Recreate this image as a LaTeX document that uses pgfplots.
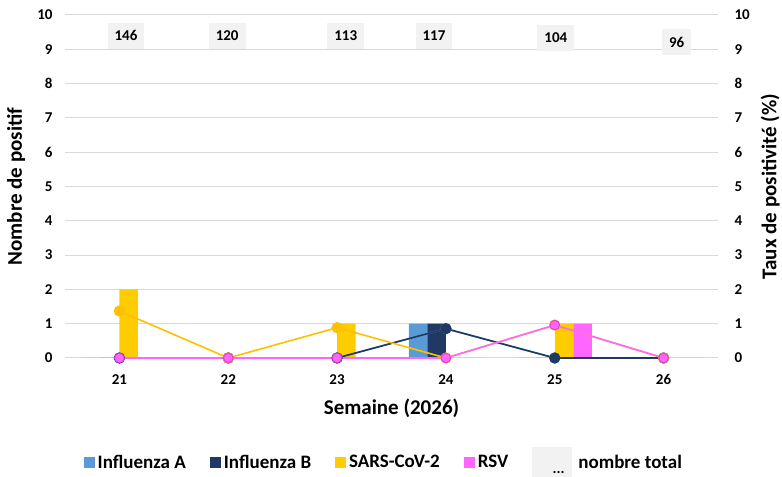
\documentclass[border=0pt]{standalone}
\usepackage{fontspec}
\setmainfont{Carlito}
\usepackage{pgfplots}
\pgfplotsset{compat=1.18}
\definecolor{fluA}{HTML}{5B9BD5}
\definecolor{fluB}{HTML}{1F3864}
\definecolor{sars}{HTML}{FFCC00}
\definecolor{sarsl}{HTML}{FFC000}
\definecolor{rsv}{HTML}{FF66FF}
\definecolor{rsvb}{HTML}{E63CCF}
\definecolor{gridc}{HTML}{D9D9D9}
\definecolor{boxc}{HTML}{F2F2F2}
\newcommand{\tickfont}{\fontsize{15bp}{18bp}\selectfont\bfseries}
\newcommand{\labfont}{\fontsize{21bp}{25bp}\selectfont\bfseries}
\newcommand{\legfont}{\fontsize{19bp}{22bp}\selectfont\bfseries}
\begin{document}
\begin{tikzpicture}[x=1bp,y=1bp]
\path[use as bounding box] (0,0) rectangle (782,477);
\begin{axis}[
  at={(65bp,119bp)}, anchor=south west,
  scale only axis, width=653bp, height=343bp,
  xmin=20.5, xmax=26.5, ymin=0, ymax=10,
  xtick={21,22,23,24,25,26}, ytick={0,1,...,10},
  ybar=0pt, bar width=18.5bp,
  axis line style={draw=none}, major tick length=0,
  ymajorgrids, grid style={gridc, line width=1bp},
  /pgf/number format/assume math mode=true,
  ticklabel style={font=\tickfont},
  xticklabel style={yshift=-13bp},
  yticklabel style={xshift=-9bp},
  xlabel={Semaine (2026)}, ylabel={Nombre de positif},
  label style={font=\labfont},
  xlabel style={at={(axis description cs:0.5,-0.146)}, anchor=center},
  ylabel style={at={(axis description cs:-0.075,0.5)}, anchor=center},
  legend columns=5,
  legend style={at={(axis description cs:0.489,-0.306)}, anchor=center, draw=none, fill=none,
    font=\legfont, nodes={inner xsep=3bp},
    /tikz/every even column/.append style={column sep=21bp}},
  legend cell align=left,
  legend image code/.code={\fill[#1] (0bp,-5.5bp) rectangle (11bp,5.5bp);},
]
\addplot[fill=fluA, draw=none] coordinates {(21,0)(22,0)(23,0)(24,1)(25,0)(26,0)};
\addlegendentry{Influenza A}
\addplot[fill=fluB, draw=none] coordinates {(21,0)(22,0)(23,0)(24,1)(25,0)(26,0)};
\addlegendentry{Influenza B}
\addplot[fill=sars, draw=none] coordinates {(21,2)(22,0)(23,1)(24,0)(25,1)(26,0)};
\addlegendentry{SARS-CoV-2}
\addplot[fill=rsv, draw=none] coordinates {(21,0)(22,0)(23,0)(24,0)(25,1)(26,0)};
\addlegendentry{RSV}
\addlegendimage{legend image code/.code={
  \fill[boxc, draw=none] (0bp,-16bp) rectangle (40bp,15bp);
  \node[font=\tickfont, inner sep=0pt, text=black] at (20bp,-11bp) {...};
  \path[draw=none] (0bp,0bp) -- (43bp,0bp);}}
\addlegendentry{nombre total}
\end{axis}
\begin{axis}[
  at={(65bp,119bp)}, anchor=south west,
  scale only axis, width=653bp, height=343bp,
  xmin=20.5, xmax=26.5, ymin=0, ymax=10,
  axis x line=none, axis y line*=right,
  axis line style={draw=none}, major tick length=0,
  ytick={0,1,...,10},
  /pgf/number format/assume math mode=true,
  ticklabel style={font=\tickfont},
  yticklabel style={xshift=13bp},
  ylabel={Taux de positivité (\%)},
  label style={font=\labfont},
  ylabel style={at={(axis description cs:1.080,0.5)}, anchor=center},
  clip=false,
  every axis plot/.append style={line width=1.6bp, mark=*, mark size=4.8bp},
]
\addplot[color=fluA, mark options={fill=fluA, draw=fluA}] coordinates {(21,0)(22,0)(23,0)(24,0.855)(25,0)(26,0)};
\addplot[color=fluB, mark options={fill=fluB, draw=fluB}] coordinates {(21,0)(22,0)(23,0)(24,0.855)(25,0)(26,0)};
\addplot[color=sarsl, mark options={fill=sarsl, draw=sarsl}] coordinates {(21,1.37)(22,0)(23,0.885)(24,0)(25,0.96)(26,0)};
\addplot[color=rsv, mark options={fill=rsv, draw=rsvb, line width=1bp}] coordinates {(21,0)(22,0)(23,0)(24,0)(25,0.96)(26,0)};
\addplot[draw=none, mark=none, nodes near coords, point meta=explicit symbolic,
  nodes near coords style={anchor=center, fill=boxc, inner xsep=7bp, inner ysep=8bp, font=\tickfont}]
  table[meta=lab] {
x y lab
21.06 9.39 146
21.99 9.39 120
23.08 9.39 113
23.89 9.39 117
25.01 9.33 104
26.12 9.21 96
};
\end{axis}
\end{tikzpicture}
\end{document}
